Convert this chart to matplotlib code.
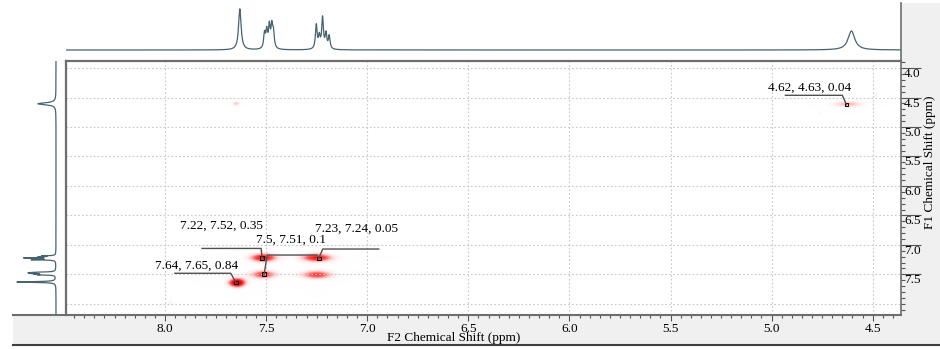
import matplotlib
matplotlib.use("Agg")
import matplotlib.pyplot as plt
import numpy as np
from matplotlib.colors import LinearSegmentedColormap
from matplotlib.lines import Line2D
from matplotlib.patches import Rectangle
from matplotlib.transforms import IdentityTransform
from matplotlib.ticker import MultipleLocator, FixedLocator, FormatStrFormatter

plt.rcParams["font.family"] = ["Liberation Serif", "DejaVu Serif"]
plt.rcParams["font.size"] = 9.5

# 1D proton peak list (ppm, height, half width) used for both projections
h1_ppm = [7.630, 7.508, 7.497, 7.484, 7.472, 7.464, 7.252, 7.237, 7.221, 7.204, 7.188, 4.605]
h1_height = [41, 15, 17, 22, 21, 15, 24, 12, 31, 15, 13, 19]
h1_hwhm = [0.0075, 0.005, 0.005, 0.005, 0.005, 0.005, 0.005, 0.005, 0.005, 0.005, 0.005, 0.02]

# cross peaks seen in the 2D map (F2, F1, relative strength, widths)
cross_f2 = [7.645, 7.515, 7.515, 7.250, 7.250, 4.620, 7.650, 7.975, 4.480, 4.760]
cross_f1 = [7.645, 7.220, 7.505, 7.220, 7.510, 4.610, 4.600, 7.980, 4.460, 4.760]
cross_amp = [1.0, 0.75, 0.6, 0.7, 0.6, 0.38, 0.35, 0.2, 0.18, 0.15]
cross_wx = [0.03, 0.05, 0.05, 0.06, 0.06, 0.06, 0.015, 0.01, 0.01, 0.008]
cross_wy = [0.055, 0.055, 0.055, 0.055, 0.055, 0.04, 0.03, 0.03, 0.03, 0.03]

# picked peaks: F1, F2, intensity
pk_f1 = [7.22, 7.5, 7.23, 7.64, 4.62]
pk_f2 = [7.52, 7.51, 7.24, 7.65, 4.63]
pk_int = [0.35, 0.1, 0.05, 0.84, 0.04]

x_ticks = [8.0, 7.5, 7.0, 6.5, 6.0, 5.5, 5.0, 4.5]
y_ticks = [4.0, 4.5, 5.0, 5.5, 6.0, 6.5, 7.0, 7.5]

# label layout, pixels relative to the marker (y down)
lab_off = [(-41, -32), (27, -35), (38, -30), (-39, -17), (-37, -17)]
lead_y = [-9.4, -19.3, -9.4, -9.3, -9.3]
lead_x = [(-60, -1), (3, 53), (4, 60), (-61, -5), (-61, -4)]
lead_join = [1, 0, 0, 1, 1]

XLIM = (8.49, 4.36)
YLIM = (8.19, 3.88)
W, H = 940, 349
line_col = "#46646e"
frame_col = "#6e6e6e"


def lorentz(x, c, g):
    return g**2 / ((x - c) ** 2 + g**2)


def blob(x, c, s):
    return 0.8 * np.exp(-0.5 * ((x - c) / s) ** 2) + 0.2 * lorentz(x, c, s)


ppm = np.arange(3.80, 8.60, 0.0004)
spec = np.zeros_like(ppm)
for c, h, g in zip(h1_ppm, h1_height, h1_hwhm):
    spec += h * lorentz(ppm, c, g)

fig = plt.figure(figsize=(W / 100, H / 100), dpi=100)

# grey strips of the frame
fig.add_artist(Rectangle((13 / W, 1 - 344 / H), (W - 13) / W, 29 / H, transform=fig.transFigure,
                         facecolor="#f0f0f0", edgecolor="none", zorder=-2))
fig.add_artist(Rectangle((901 / W, 1 - 315 / H), (W - 901) / W, 312 / H, transform=fig.transFigure,
                         facecolor="#f0f0f0", edgecolor="none", zorder=-2))
fig.add_artist(Line2D([13 / W, 1], [1 - 344.5 / H] * 2, transform=fig.transFigure, color="#404040", lw=1.5))
fig.add_artist(Line2D([13 / W, 901 / W], [1 - 315 / H] * 2, transform=fig.transFigure, color=frame_col, lw=1.5))
fig.add_artist(Line2D([901 / W] * 2, [1 - 315 / H, 1 - 3 / H], transform=fig.transFigure, color=frame_col, lw=1.2))

ax_l, ax_b = 66 / W, 1 - 315 / H
ax_w, ax_h = 835 / W, 254 / H

# top projection
ax_top = fig.add_axes([ax_l, ax_b + ax_h, ax_w, 61 / H])
ax_top.plot(ppm, spec, color=line_col, lw=0.9)
ax_top.set_xlim(*XLIM)
ax_top.set_ylim(-11, 50)
ax_top.axis("off")

# left projection
ax_left = fig.add_axes([0, ax_b, ax_l, ax_h])
ax_left.plot(-0.95 * spec, ppm, color=line_col, lw=0.9)
ax_left.set_ylim(*YLIM)
ax_left.set_xlim(-56, 10)
ax_left.axis("off")

# 2D map
ax = fig.add_axes([ax_l, ax_b, ax_w, ax_h])
xs = np.linspace(XLIM[1], XLIM[0], 1000)
ys = np.linspace(YLIM[1], YLIM[0], 600)
X, Y = np.meshgrid(xs, ys)
Z = np.zeros_like(X)
for cx, cy, a, wx, wy in zip(cross_f2, cross_f1, cross_amp, cross_wx, cross_wy):
    Z += a * blob(X, cx, wx) * blob(Y, cy, wy)
cmap = LinearSegmentedColormap.from_list(
    "cosy", [(1, 1, 1, 0), (1, 0.72, 0.72, 0.4), (1, 0.2, 0.2, 0.8), (0.92, 0.02, 0.02, 1)])
ax.imshow(np.clip(Z / 0.75, 0, 1), extent=(xs[0], xs[-1], ys[0], ys[-1]), origin="lower",
          aspect="auto", cmap=cmap, vmin=0, vmax=1, interpolation="bilinear", zorder=1)
ax.set_xlim(*XLIM)
ax.set_ylim(*YLIM)

ax.xaxis.set_major_locator(FixedLocator(x_ticks))
ax.xaxis.set_minor_locator(MultipleLocator(0.05))
ax.xaxis.set_major_formatter(FormatStrFormatter("%.1f"))
ax.yaxis.set_major_locator(FixedLocator(y_ticks))
ax.yaxis.set_minor_locator(MultipleLocator(0.1))
ax.yaxis.set_major_formatter(FormatStrFormatter("%.1f"))
ax.yaxis.tick_right()
ax.tick_params(axis="x", which="major", length=4.5, width=0.8, color="#555555", pad=1.5)
ax.tick_params(axis="x", which="minor", length=2.5, width=0.8, color="#555555")
ax.tick_params(axis="y", which="major", length=14.4, width=0.8, color="#555555", pad=-12.2)
ax.tick_params(axis="y", which="minor", length=3, width=0.8, color="#555555")
for lab in ax.get_yticklabels():
    lab.set_verticalalignment("top")
    lab.set_horizontalalignment("left")
ax.grid(True, which="major", color="#c8c8c8", ls=(0, (1.5, 2)), lw=0.8)
ax.axhline(8.0, color="#c8c8c8", ls=(0, (1.5, 2)), lw=0.8)
for side in ["left", "top"]:
    ax.spines[side].set_color(frame_col)
    ax.spines[side].set_linewidth(1.6)
ax.spines["right"].set_visible(False)
ax.spines["bottom"].set_visible(False)

# picked peaks with leader lines
ax.scatter(pk_f2, pk_f1, marker="s", s=7, facecolors="none", edgecolors="black", linewidths=0.7, zorder=6)
for f1, f2, it, (dx, dy), ly, (x0, x1), j in zip(pk_f1, pk_f2, pk_int, lab_off, lead_y, lead_x, lead_join):
    mx, my = ax.transData.transform((f2, f1))
    if j == 1:
        px = [x0, x1, 0]
    else:
        px = [x1, x0, 0]
    py = [ly, ly, 0]
    fig.add_artist(Line2D([mx + p for p in px], [my - q for q in py], transform=IdentityTransform(),
                          color="#505050", lw=1.0, zorder=5))
    ax.annotate(f"{f1:g}, {f2:g}, {it:g}", xy=(f2, f1), xytext=(dx * 0.72, -dy * 0.72),
                textcoords="offset points", ha="center", va="center", fontsize=9.5, zorder=7)

fig.text(454 / W, 1 - 338 / H, "F2 Chemical Shift (ppm)", ha="center", va="center", fontsize=9.5)
fig.text(930 / W, 1 - 162 / H, "F1 Chemical Shift (ppm)", ha="center", va="center", rotation=90, fontsize=9.5)

fig.savefig("out.png", dpi=100)
